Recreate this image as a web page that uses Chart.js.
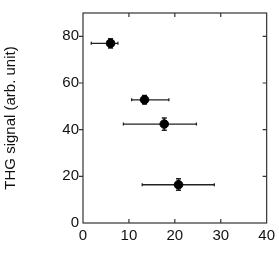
<!DOCTYPE html>
<html><head><meta charset="utf-8">
<script src="https://cdn.jsdelivr.net/npm/chart.js@4"></script>
<style>html,body{margin:0;padding:0;background:#fff}#wrap{width:279px;height:267px}</style>
</head><body><div id="wrap"><canvas id="c"></canvas></div>
<script>
const xValues = [6.0, 13.4, 17.7, 20.8];
const yValues = [77.0, 52.8, 42.4, 16.4];
const xLow = [1.8, 10.6, 8.8, 12.9];
const xHigh = [7.6, 18.7, 24.7, 28.6];
const yLow = [75.0, 51.0, 39.8, 14.0];
const yHigh = [79.0, 54.6, 45.0, 19.0];
const xTicks = [0, 10, 20, 30, 40];
const yTicks = [0, 20, 40, 60, 80];

const points = xValues.map((x, i) => ({x: x, y: yValues[i]}));

const framePlugin = {
  id: 'frame',
  beforeDatasetsDraw(chart) {
    const ctx = chart.ctx;
    const xs = chart.scales.x, ys = chart.scales.y;
    ctx.save();
    ctx.strokeStyle = '#222';
    for (let i = 0; i < xValues.length; i++) {
      const px = xs.getPixelForValue(xValues[i]);
      const py = ys.getPixelForValue(yValues[i]);
      const x1 = xs.getPixelForValue(xLow[i]), x2 = xs.getPixelForValue(xHigh[i]);
      const y1 = ys.getPixelForValue(yLow[i]), y2 = ys.getPixelForValue(yHigh[i]);
      ctx.lineWidth = 1.3;
      ctx.beginPath();
      ctx.moveTo(x1, py); ctx.lineTo(x2, py);
      ctx.moveTo(x1, py - 1.5); ctx.lineTo(x1, py + 1.5);
      ctx.moveTo(x2, py - 1.5); ctx.lineTo(x2, py + 1.5);
      ctx.stroke();
      ctx.lineWidth = 1.5;
      ctx.beginPath();
      ctx.moveTo(px, y1); ctx.lineTo(px, y2);
      ctx.moveTo(px - 2.5, y1); ctx.lineTo(px + 2.5, y1);
      ctx.moveTo(px - 2.5, y2); ctx.lineTo(px + 2.5, y2);
      ctx.stroke();
    }
    ctx.restore();
  },
  afterDraw(chart) {
    const ctx = chart.ctx, a = chart.chartArea;
    const xs = chart.scales.x, ys = chart.scales.y;
    ctx.save();
    ctx.strokeStyle = '#333';
    ctx.lineWidth = 1.2;
    ctx.strokeRect(a.left, a.top, a.right - a.left, a.bottom - a.top);
    ctx.beginPath();
    const tl = 4;
    xTicks.slice(1, -1).forEach(v => {
      const p = xs.getPixelForValue(v);
      ctx.moveTo(p, a.top); ctx.lineTo(p, a.top + tl);
      ctx.moveTo(p, a.bottom); ctx.lineTo(p, a.bottom - tl);
    });
    yTicks.slice(1).forEach(v => {
      const p = ys.getPixelForValue(v);
      ctx.moveTo(a.right, p); ctx.lineTo(a.right - tl, p);
      ctx.moveTo(a.left, p); ctx.lineTo(a.left - tl, p);
    });
    ctx.stroke();
    ctx.restore();
  }
};

new Chart(document.getElementById('c'), {
  type: 'scatter',
  data: { datasets: [{ data: points, backgroundColor: '#000', borderColor: '#000', pointRadius: 4.3, pointHoverRadius: 4.3 }] },
  options: {
    responsive: true, maintainAspectRatio: false, animation: false,
    layout: { padding: { top: 13, right: 8, left: 0, bottom: 0 } },
    plugins: { legend: { display: false }, tooltip: { enabled: false } },
    scales: {
      x: {
        type: 'linear', min: 0, max: 40,
        afterBuildTicks: s => { s.ticks = xTicks.map(v => ({value: v})); },
        afterFit: s => { s.height = 44; },
        grid: { display: false, drawTicks: false },
        border: { display: false },
        ticks: { padding: 4, color: '#111', font: { family: 'Liberation Sans, Arial', size: 15 } }
      },
      y: {
        type: 'linear', min: 0, max: 90,
        afterBuildTicks: s => { s.ticks = yTicks.map(v => ({value: v})); },
        afterFit: s => { s.width = 83; },
        grid: { display: false, drawTicks: false },
        border: { display: false },
        title: { display: true, text: 'THG signal (arb. unit)', color: '#111', font: { family: 'Liberation Sans, Arial', size: 15 }, padding: { top: 2, bottom: 0 } },
        ticks: { padding: 4, color: '#111', font: { family: 'Liberation Sans, Arial', size: 15 } }
      }
    }
  },
  plugins: [framePlugin]
});
</script></body></html>
